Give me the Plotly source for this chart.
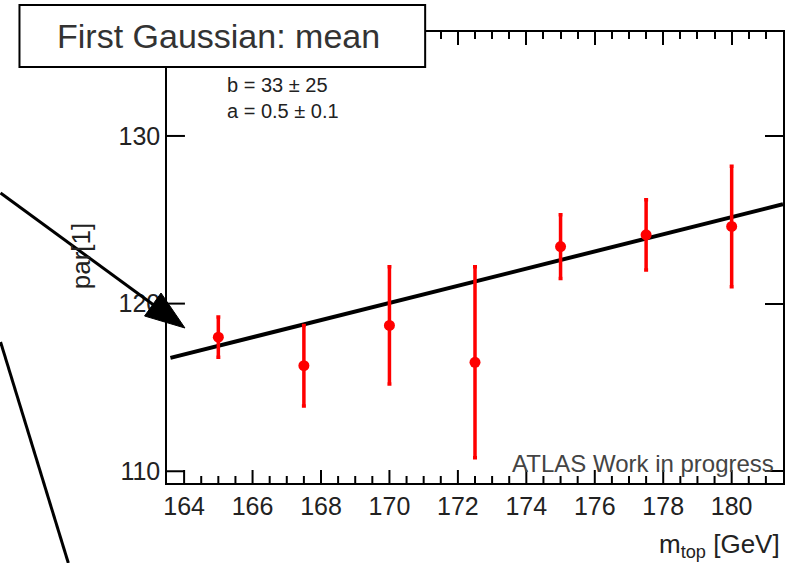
import numpy as np
import plotly.graph_objects as go

# Measured points: top-quark mass vs. fitted mean of the first Gaussian
m_top = [165.0, 167.5, 170.0, 172.5, 175.0, 177.5, 180.0]
par1 = [118.0, 116.3, 118.7, 116.5, 123.4, 124.1, 124.6]
par1_err = [1.2, 2.4, 3.5, 5.7, 1.9, 2.1, 3.6]

# Linear fit par[1] = b + a * m_top
fit_b, fit_b_err = 33.0, 25.0
fit_a, fit_a_err = 0.512, 0.1
fit_range = [163.6, 181.5]

x_range = [163.5, 181.5]
y_range = [109.3, 136.2]
x_major = [164, 166, 168, 170, 172, 174, 176, 178, 180]
x_minor = [float(v) for v in np.arange(164.0, 181.5, 0.5) if v not in x_major]
y_major = [110, 120, 130]

W, H = 793, 563
ML, MR, MT, MB = 167, 8, 32, 80
PW, PH = W - ML - MR, H - MT - MB


def px(x):
    return (x - ML) / PW


def py(y):
    return 1 - (y - MT) / PH


FONT = "Liberation Sans, Arial, sans-serif"

fig = go.Figure()

m_fit = np.linspace(fit_range[0], fit_range[1], 200)
fig.add_trace(go.Scatter(
    x=m_fit, y=fit_b + fit_a * m_fit, mode="lines",
    line=dict(color="black", width=4), hoverinfo="skip", showlegend=False,
))

fig.add_trace(go.Scatter(
    x=m_top, y=par1, mode="markers",
    marker=dict(color="#ff0000", size=11, symbol="circle"),
    error_y=dict(type="data", array=par1_err, color="#ff0000",
                 thickness=3.5, width=2),
    showlegend=False,
))

# Empty trace that activates the top/right tick axes
fig.add_trace(go.Scatter(x=[], y=[], xaxis="x2", yaxis="y2",
                         showlegend=False, hoverinfo="skip"))

tick_font = dict(family=FONT, size=25, color="#222")

fig.update_layout(
    xaxis=dict(range=x_range, tickvals=x_major, ticks="",
               showline=True, linecolor="black", linewidth=1.5, mirror=True,
               showgrid=False, zeroline=False, tickfont=tick_font),
    yaxis=dict(range=y_range, tickvals=y_major, ticks="",
               showline=True, linecolor="black", linewidth=1.5, mirror=True,
               showgrid=False, zeroline=False, tickfont=tick_font),
    xaxis2=dict(overlaying="x", side="top", anchor="y2", range=x_range,
                tickmode="linear", tick0=164, dtick=2,
                ticks="inside", ticklen=13, tickwidth=2, tickcolor="black",
                minor=dict(tick0=164, dtick=0.5, ticks="inside", ticklen=7,
                           tickcolor="black", tickwidth=2, showgrid=False),
                showgrid=False, zeroline=False, showticklabels=False,
                showline=False),
    yaxis2=dict(overlaying="y", side="right", anchor="x2", range=y_range,
                tickvals=y_major, ticks="inside", ticklen=18, tickwidth=2,
                tickcolor="black", showgrid=False, zeroline=False,
                showticklabels=False, showline=False),
)

shapes = []

# Inward tick marks along the bottom and left frame edges
for vals, length in ((x_major, 13), (x_minor, 7)):
    for v in vals:
        shapes.append(dict(type="line", xref="x", yref="y domain",
                           x0=v, x1=v, y0=0, y1=length / PH, layer="above",
                           line=dict(color="black", width=2)))
for v in y_major:
    shapes.append(dict(type="line", xref="x domain", yref="y",
                       x0=0, x1=18 / PW, y0=v, y1=v, layer="above",
                       line=dict(color="black", width=2)))

shapes += [
    # Arrow pointing at the left end of the fit
    dict(type="line", xref="paper", yref="paper",
         x0=px(0), y0=py(193), x1=px(155), y1=py(306),
         line=dict(color="black", width=3)),
    dict(type="path", xref="paper", yref="paper",
         path=(f"M {px(185)} {py(328)} L {px(161)} {py(293)} "
               f"L {px(144.5)} {py(316)} Z"),
         fillcolor="black", line=dict(color="black", width=1)),
    dict(type="line", xref="paper", yref="paper",
         x0=px(0), y0=py(342), x1=px(68), y1=py(563),
         line=dict(color="black", width=3)),
    # Title box
    dict(type="rect", xref="paper", yref="paper", layer="above",
         x0=px(19), y0=py(5), x1=px(426), y1=py(67),
         fillcolor="white", line=dict(color="black", width=2)),
]

annotations = [
    dict(text="First Gaussian: mean", x=px(219), y=py(36),
         font=dict(family=FONT, size=34, color="#333")),
    dict(text=f"b = {fit_b:.0f} \u00b1 {fit_b_err:.0f}", x=px(225), y=py(85),
         xanchor="left", font=dict(family=FONT, size=20, color="#222")),
    dict(text=f"a = {fit_a:.1f} \u00b1 {fit_a_err:.1f}", x=px(225), y=py(111),
         xanchor="left", font=dict(family=FONT, size=20, color="#222")),
    dict(text="ATLAS Work in progress", x=px(778), y=py(463),
         xanchor="right", font=dict(family=FONT, size=24, color="#444")),
    dict(text="m<sub>top</sub> [GeV]", x=px(784), y=py(545),
         xanchor="right", font=dict(family=FONT, size=26, color="#222")),
    dict(text="par[1]", x=px(81), y=py(256), textangle=-90,
         font=dict(family=FONT, size=26, color="#222")),
]
for a in annotations:
    a.update(xref="paper", yref="paper", showarrow=False)
    a.setdefault("xanchor", "center")
    a.setdefault("yanchor", "middle")

fig.update_layout(
    width=W, height=H,
    margin=dict(l=ML, r=MR, t=MT, b=MB),
    paper_bgcolor="white", plot_bgcolor="white",
    shapes=shapes, annotations=annotations,
    showlegend=False,
)

fig.write_html("out.html")
